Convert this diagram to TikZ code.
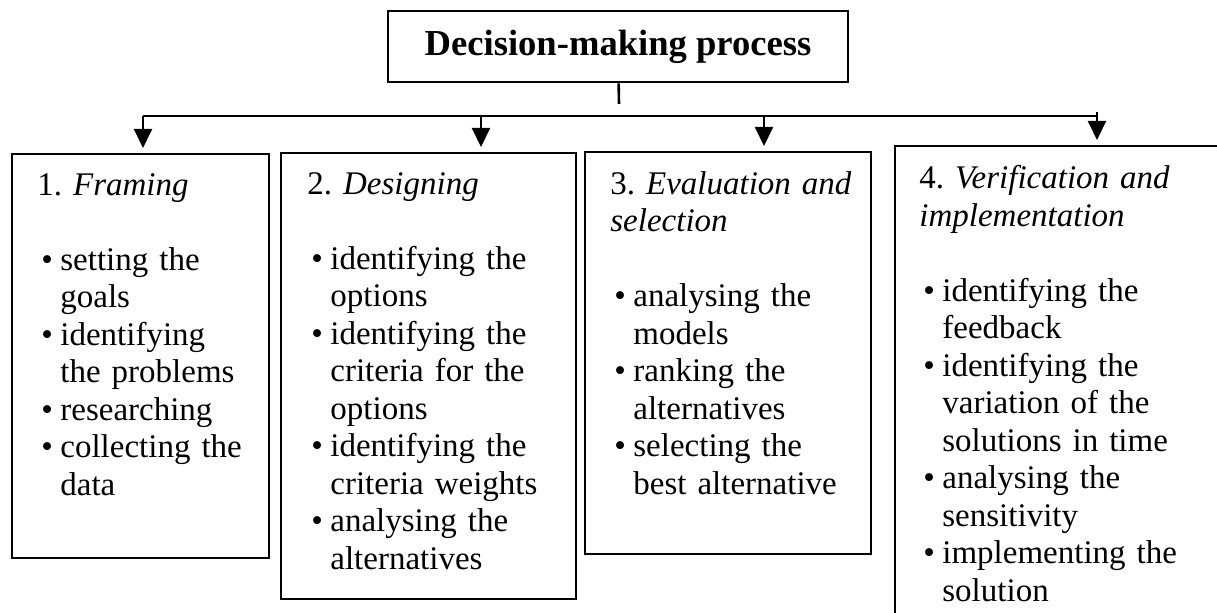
\documentclass[tikz,border=0pt]{standalone}
\usepackage{fontspec}
\setmainfont{Liberation Serif}
\usepackage{tikz}
\usetikzlibrary{positioning, arrows.meta, calc}

\newcommand{\itm}[1]{\par{\leftskip=11.5pt\noindent\llap{\makebox[9.5pt][l]{\textbullet}}#1\par}}

\begin{document}
\begin{tikzpicture}[x=0.5pt,y=-0.5pt]
		\tikzstyle{box} = [draw, line width=1pt, anchor=north west, inner sep=0]
		\tikzstyle{head} = [draw, line width=1.3pt, minimum width=230pt, minimum height=35.5pt, font=\fontsize{18.3}{21}\selectfont\bfseries]
		\tikzstyle{stage} = [anchor=north west, inner sep=0, text width=150pt, font=\fontsize{16.5}{18.75}\selectfont\frenchspacing\raggedright]
		\tikzstyle{arrow} = [-{Triangle[length=9.5pt,width=9pt]}, line width=1pt, shorten >=2.5pt]
		\clip (0,0) rectangle (1217,613);
		\node [head] (v1) at (618,46.5) {Decision-making process};
		\node [box, minimum width=128.5pt, minimum height=202pt] (v2) at (11,153) {};
		\node [box, minimum width=147.5pt, minimum height=223pt] (v3) at (280,152) {};
		\node [box, minimum width=143pt, minimum height=201pt] (v4) at (584,151) {};
		\node [box, minimum width=170pt, minimum height=245pt] (v5) at (894,145) {};
		\node [stage] (v6) at ($(v2.north west)+(26,20)$) {1. \textit{Framing}\par\strut\par
			\itm{setting the\\goals}\itm{identifying\\the problems}\itm{researching}\itm{collecting the\\data}};
		\node [stage] (v7) at ($(v3.north west)+(27,20)$) {2. \textit{Designing}\par\strut\par
			\itm{identifying the\\options}\itm{identifying the\\criteria for the\\options}\itm{identifying the\\criteria weights}\itm{analysing the\\alternatives}};
		\node [stage] (v8) at ($(v4.north west)+(26,20)$) {3. \textit{Evaluation and\\selection}\par\strut\par
			\itm{analysing the\\models}\itm{ranking the\\alternatives}\itm{selecting the\\best alternative}};
		\node [stage] (v9) at ($(v5.north west)+(25,20)$) {4. \textit{Verification and\\implementation}\par\strut\par
			\itm{identifying the\\feedback}\itm{identifying the\\variation of the\\solutions in time}\itm{analysing the\\sensitivity}\itm{implementing the\\solution}};
		\coordinate (s) at (619,104);
		\coordinate (b1) at (143,116);
		\coordinate (b2) at (481,116);
		\coordinate (b3) at (764,116);
		\coordinate (b4) at (1097,112);
		\draw [line width=1.3pt] (v1) -- (s);
		\draw [line width=1pt] (b1) -- (b1 -| b4);
		\draw [arrow] (b1) -- (b1 |- v2.north);
		\draw [arrow] (b2) -- (b2 |- v3.north);
		\draw [arrow] (b3) -- (b3 |- v4.north);
		\draw [arrow] (b4) -- (b4 |- v5.north);
\end{tikzpicture}
\end{document}
